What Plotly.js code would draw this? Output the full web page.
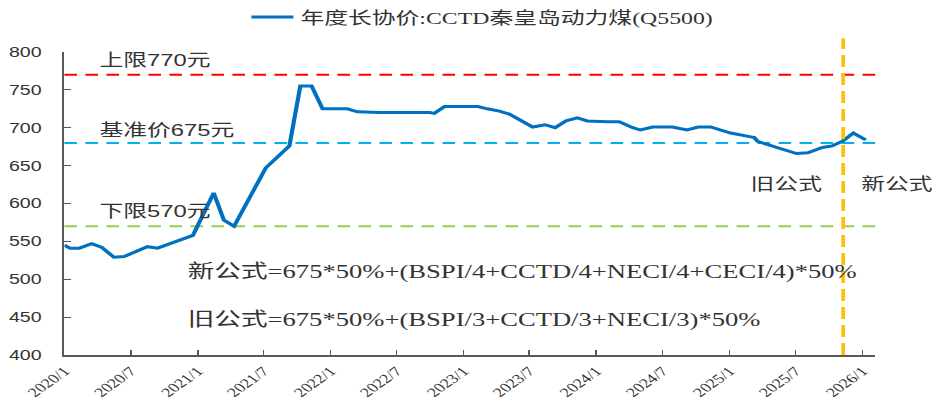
<!DOCTYPE html>
<html>
<head>
<meta charset="utf-8">
<script src="https://cdn.plot.ly/plotly-3.0.1.min.js"></script>
<style>
  html, body { margin: 0; padding: 0; background: #fff; overflow: hidden; }
  #wrap { width: 934px; height: 400px; overflow: hidden; }
  #chart { width: 667px; height: 400px; transform: scaleX(1.4003); transform-origin: 0 0; }
</style>
</head>
<body>
<div id="wrap"><div id="chart"></div></div>
<script>
// ---- data ----
const seriesName = "年度长协价:CCTD秦皇岛动力煤(Q5500)";
const dates = [
  "2020-01-01","2020-01-16","2020-02-11","2020-03-16","2020-04-13","2020-05-16","2020-06-13",
  "2020-08-16","2020-09-13","2020-12-19","2021-02-14","2021-03-14","2021-04-11","2021-07-07",
  "2021-09-10","2021-10-10","2021-11-10","2021-12-10","2022-02-16","2022-03-16","2022-05-16",
  "2022-10-01","2022-10-13","2022-11-10","2023-02-10","2023-03-07","2023-04-10","2023-05-07",
  "2023-07-10","2023-08-13","2023-09-10","2023-10-10","2023-11-10","2023-12-07","2024-02-01",
  "2024-03-04","2024-04-10","2024-05-01","2024-06-04","2024-07-28","2024-09-06","2024-10-07",
  "2024-11-10","2025-01-04","2025-02-18","2025-03-10","2025-03-19","2025-05-10","2025-07-04",
  "2025-08-04","2025-09-13","2025-10-10","2025-11-10","2025-12-07","2026-01-10"
];
const prices = [
  545, 541, 541, 547, 542, 529, 530,
  543, 541, 558, 614, 578, 570, 647,
  676, 755, 755, 725, 725, 721, 720,
  720, 719, 728, 728, 725, 722, 718,
  701, 704, 700, 709, 713, 709, 708,
  708, 700, 697, 701, 701, 697, 701,
  701, 693, 689, 687, 682, 674, 666,
  667, 674, 676, 683, 693, 684
];
const refLevels = [770, 680, 570];
const refLabels = ["上限770元", "基准价675元", "下限570元"];
const formulaSwitch = ["2025-11-09"];
const tickDates = ["2020-01-01","2020-07-01","2021-01-01","2021-07-01","2022-01-01","2022-07-01",
  "2023-01-01","2023-07-01","2024-01-01","2024-07-01","2025-01-01","2025-07-01","2026-01-01"];
const tickLabels = ["2020/1","2020/7","2021/1","2021/7","2022/1","2022/7",
  "2023/1","2023/7","2024/1","2024/7","2025/1","2025/7","2026/1"];
const formulaNew = "新公式=675*50%+(BSPI/4+CCTD/4+NECI/4+CECI/4)*50%";
const formulaOld = "旧公式=675*50%+(BSPI/3+CCTD/3+NECI/3)*50%";
const periodLabels = ["旧公式", "新公式"];

// ---- styles ----
const refColors = ["#FF0000", "#00B0F0", "#92D050"];
const refLabelY = [789, 697, 590];
const axisColor = "#595959";
const textColor = "#333333";
const cjkSans = "Liberation Sans, Noto Sans CJK SC, sans-serif";
const cjkSerif = "Liberation Serif, Noto Sans CJK SC, serif";

const trace = {
  x: dates, y: prices, type: "scatter", mode: "lines", name: seriesName,
  line: { color: "#0070C0", width: 3 }
};

const shapes = refLevels.map((v, i) => ({
  type: "line", xref: "paper", x0: 0, x1: 1, yref: "y", y0: v, y1: v,
  line: { color: refColors[i], width: 2, dash: "9px,6px" }, layer: "below"
}));
shapes.push({
  type: "line", xref: "x", x0: formulaSwitch[0], x1: formulaSwitch[0],
  yref: "paper", y0: 0, y1: 1.045,
  line: { color: "#FFC000", width: 2.6, dash: "12px,6px" }
});

const annotations = refLabels.map((t, i) => ({
  text: t, xref: "paper", x: 0.0395, yref: "y", y: refLabelY[i],
  xanchor: "left", yanchor: "middle", showarrow: false,
  font: { family: cjkSans, size: 17, color: textColor }
}));
annotations.push(
  { text: formulaNew, xref: "paper", x: 0.148, yref: "y", y: 509, xanchor: "left", yanchor: "middle",
    showarrow: false, font: { family: cjkSerif, size: 19, color: textColor } },
  { text: formulaOld, xref: "paper", x: 0.148, yref: "y", y: 446, xanchor: "left", yanchor: "middle",
    showarrow: false, font: { family: cjkSerif, size: 19, color: textColor } },
  { text: periodLabels[0], xref: "paper", x: 0.843, yref: "y", y: 625, xanchor: "left", yanchor: "middle",
    showarrow: false, font: { family: cjkSans, size: 17, color: textColor } },
  { text: periodLabels[1], xref: "paper", x: 0.979, yref: "y", y: 625, xanchor: "left", yanchor: "middle",
    showarrow: false, font: { family: cjkSans, size: 17, color: textColor } }
);

const layout = {
  width: 667, height: 400,
  margin: { l: 46, r: 42, t: 52, b: 45, autoexpand: false },
  paper_bgcolor: "#ffffff", plot_bgcolor: "#ffffff",
  showlegend: true,
  legend: {
    orientation: "h", x: 0.222, xanchor: "left", y: 1.114, yanchor: "middle",
    font: { family: cjkSerif, size: 17, color: textColor },
    bgcolor: "rgba(0,0,0,0)"
  },
  xaxis: {
    type: "date", range: ["2020-01-01", "2026-02-05"],
    tickvals: tickDates, ticktext: tickLabels, tickangle: -45,
    showgrid: false, zeroline: false,
    showline: true, linecolor: axisColor, linewidth: 1.5,
    ticks: "inside", ticklen: 5, tickcolor: axisColor, tickwidth: 1.2,
    tickfont: { family: "Liberation Serif, serif", size: 13, color: textColor },
    ticklabelstandoff: 2
  },
  yaxis: {
    range: [400, 800], dtick: 50, tick0: 400,
    showgrid: false, zeroline: false,
    showline: true, linecolor: axisColor, linewidth: 1.5,
    ticks: "inside", ticklen: 5, tickcolor: axisColor, tickwidth: 1.2,
    tickfont: { family: "Liberation Sans, Arial, sans-serif", size: 14, color: textColor },
    ticklabelstandoff: 12
  },
  shapes: shapes,
  annotations: annotations
};

Plotly.newPlot("chart", [trace], layout, { displayModeBar: false, staticPlot: true });
</script>
</body>
</html>
